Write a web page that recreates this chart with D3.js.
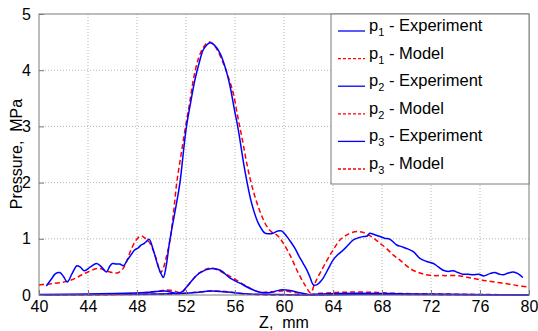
<!DOCTYPE html>
<html><head><meta charset="utf-8">
<script src="https://cdn.jsdelivr.net/npm/d3@7"></script>
<style>
body{margin:0;background:#fff;}
svg{display:block;font-family:"Liberation Sans",Arial,sans-serif;}
</style></head>
<body><svg id="c" width="538" height="331"></svg>
<script>
const xTicks=[40,44,48,52,56,60,64,68,72,76,80];
const yTicks=[0,1,2,3,4,5];

const p1ExpZ=[40.6,41.0,41.35,41.7,42.0,42.3,42.7,43.1,43.4,43.7,44.2,44.7,45.1,45.5,45.8,46.0,46.3,46.6,46.9,47.2,47.5,47.8,48.1,48.35,48.6,48.8,49.0,49.33,49.74,50.0,50.15,50.37,50.64,50.83,51.2,51.5,52.0,52.4,52.73,53.1,53.4,53.7,53.96,54.3,54.78,55.2,55.6,55.95,56.27,56.8,57.36,57.9,58.45,58.8,59.1,59.5,59.8,60.2,60.5,60.9,61.2,61.57,61.85,62.1,62.4,62.67,62.9,63.2,63.6,64.0,64.4,64.84,65.2,65.66,66.1,66.5,66.8,67.0,67.3,67.84,68.2,68.65,69.2,69.6,70.1,70.56,71.1,71.6,72.2,72.6,73.0,73.4,73.8,74.2,74.6,75.0,75.45,75.9,76.3,76.8,77.2,77.6,77.9,78.3,78.7,79.1,79.5];
const p1ExpP=[0.16,0.28,0.38,0.40,0.33,0.23,0.38,0.52,0.49,0.43,0.50,0.56,0.50,0.41,0.52,0.56,0.55,0.55,0.52,0.62,0.71,0.80,0.84,0.89,0.92,0.96,0.99,0.80,0.50,0.36,0.31,0.50,0.92,1.16,1.60,1.99,2.94,3.45,3.83,4.15,4.36,4.45,4.49,4.45,4.30,4.05,3.71,3.30,2.94,2.22,1.63,1.28,1.10,1.09,1.10,1.14,1.14,1.05,0.96,0.83,0.70,0.56,0.45,0.33,0.18,0.18,0.22,0.30,0.46,0.62,0.72,0.80,0.88,0.98,1.02,1.04,1.05,1.10,1.08,1.04,1.01,0.99,0.89,0.86,0.82,0.77,0.65,0.60,0.56,0.50,0.44,0.42,0.43,0.40,0.37,0.37,0.36,0.37,0.34,0.38,0.40,0.37,0.36,0.39,0.41,0.38,0.31];

const p1ModZ=[40,40.5,41,41.7,42.4,43.0,43.5,44.0,44.7,45.0,45.36,45.8,46.2,46.5,46.86,47.2,47.5,47.8,48.1,48.35,48.6,49.06,49.35,49.6,49.8,49.93,50.1,50.4,50.7,51.0,51.24,51.6,51.92,52.3,52.6,53.0,53.4,53.7,54.0,54.5,55.05,55.5,55.86,56.2,56.55,57.2,57.9,58.6,59.0,59.4,59.7,60.0,60.49,61.17,61.7,62.18,62.5,62.94,63.76,64.57,65.0,65.4,66.07,66.5,66.9,67.4,67.84,68.4,68.93,69.47,70.3,71.1,71.9,73.0,74.4,75.3,76.3,77.2,78.2,79.0,80];
const p1ModP=[0.18,0.19,0.20,0.22,0.25,0.30,0.36,0.41,0.47,0.47,0.44,0.41,0.39,0.40,0.47,0.62,0.80,0.93,1.02,1.05,1.02,0.92,0.78,0.62,0.47,0.40,0.45,0.68,0.98,1.50,1.99,2.50,2.94,3.42,3.83,4.20,4.40,4.48,4.50,4.38,4.12,3.85,3.59,3.20,2.82,2.10,1.57,1.22,1.12,1.07,1.00,0.90,0.71,0.39,0.18,0.04,0.20,0.39,0.71,0.98,1.05,1.10,1.13,1.11,1.07,1.00,0.92,0.82,0.71,0.62,0.47,0.39,0.35,0.345,0.34,0.30,0.26,0.23,0.20,0.17,0.14];

const p2ExpZ=[40,44,47,49,50.3,50.8,51.3,51.7,52.3,53.1,54.1,54.8,55.6,56.4,57.5,58.3,59,59.7,60.5,61.3,62,63,66,70,75,80];
const p2ExpP=[0.01,0.02,0.03,0.05,0.07,0.05,0.03,0.06,0.21,0.39,0.47,0.44,0.30,0.21,0.09,0.04,0.05,0.09,0.08,0.04,0.01,0.02,0.03,0.02,0.01,0.0];
const p2ModZ=[40,45,48,49.5,50.5,51.2,51.6,52.2,53,54,55,56,57,58,59,60,61,62,63,65,67,69,72,76,80];
const p2ModP=[0.0,0.01,0.03,0.06,0.09,0.06,0.04,0.18,0.38,0.48,0.40,0.28,0.15,0.05,0.06,0.07,0.04,0.01,0.03,0.05,0.05,0.03,0.02,0.01,0.0];

const p3ExpZ=[40,46,50,52,53,54,55,56,57,59,62,66,70,80];
const p3ExpP=[0.0,0.01,0.02,0.03,0.05,0.07,0.06,0.04,0.02,0.01,0.0,0.01,0.01,0.0];
const p3ModZ=[40,48,51,53,54,55,56,57.5,62,66,70,80];
const p3ModP=[0.0,0.01,0.02,0.05,0.07,0.065,0.04,0.01,0.0,0.02,0.01,0.0];

const legendLabels=[["1"," - Experiment"],["1"," - Model"],["2"," - Experiment"],["2"," - Model"],["3"," - Experiment"],["3"," - Model"]];

const BLUE="#0000ff", RED="#ff0000";
const series=[
 {z:p1ExpZ,p:p1ExpP,c:BLUE,d:null},
 {z:p1ModZ,p:p1ModP,c:RED,d:"5,3"},
 {z:p2ExpZ,p:p2ExpP,c:BLUE,d:null},
 {z:p2ModZ,p:p2ModP,c:RED,d:"5,3"},
 {z:p3ExpZ,p:p3ExpP,c:BLUE,d:null},
 {z:p3ModZ,p:p3ModP,c:RED,d:"5,3"}
];

const L=39,R=529,T=14,B=295;
const svg=d3.select("#c");
const x=d3.scaleLinear().domain([40,80]).range([L,R]);
const y=d3.scaleLinear().domain([0,5]).range([B,T]);

const g=svg.append("g");
// grid
g.selectAll(".gx").data(xTicks.slice(1,-1)).enter().append("line")
 .attr("x1",d=>x(d)).attr("x2",d=>x(d)).attr("y1",T).attr("y2",B)
 .attr("stroke","#b4b4b4").attr("stroke-dasharray","1,2").attr("stroke-width",1);
g.selectAll(".gy").data(yTicks.slice(1,-1)).enter().append("line")
 .attr("y1",d=>y(d)).attr("y2",d=>y(d)).attr("x1",L).attr("x2",R)
 .attr("stroke","#b4b4b4").attr("stroke-dasharray","1,2").attr("stroke-width",1);

// lines
const line=d3.line().curve(d3.curveCatmullRom.alpha(0.5));
series.slice().reverse().forEach(s=>{
  const pts=s.z.map((v,i)=>[x(v),y(s.p[i])]);
  g.append("path").attr("d",line(pts)).attr("fill","none")
   .attr("stroke",s.c).attr("stroke-width",1.5)
   .attr("stroke-dasharray",s.d);
});

// axes box
g.append("rect").attr("x",L).attr("y",T).attr("width",R-L).attr("height",B-T)
 .attr("fill","none").attr("stroke","#7a7a7a").attr("stroke-width",1);

const xa=d3.axisBottom(x).tickValues(xTicks).tickSize(-5).tickPadding(6).tickFormat(d3.format("d"));
const ya=d3.axisLeft(y).tickValues(yTicks).tickSize(-5).tickPadding(8).tickFormat(d3.format("d"));
const gx=svg.append("g").attr("transform",`translate(0,${B})`).call(xa);
const gy=svg.append("g").attr("transform",`translate(${L},0)`).call(ya);
[gx,gy].forEach(a=>{
  a.select(".domain").remove();
  a.selectAll(".tick line").attr("stroke","#7a7a7a");
  a.selectAll("text").attr("font-size",16).attr("fill","#000").attr("font-family","'Liberation Sans',Arial,sans-serif");
});
gx.selectAll("text").attr("dy","0.71em");

// axis labels
svg.append("text").attr("x",284).attr("y",328).attr("text-anchor","middle")
 .attr("font-size",16).attr("xml:space","preserve").text("Z,  mm");
svg.append("text").attr("transform","translate(22,154) rotate(-90)").attr("text-anchor","middle")
 .attr("font-size",16).attr("xml:space","preserve").text("Pressure,  MPa");

// legend
const lg=svg.append("g");
lg.append("rect").attr("x",331).attr("y",T).attr("width",R-331).attr("height",184-T)
 .attr("fill","#fff").attr("stroke","#7a7a7a").attr("stroke-width",1);
legendLabels.forEach((lab,i)=>{
  const yy=31+i*27.6;
  const s=series[i];
  lg.append("line").attr("x1",338).attr("x2",365).attr("y1",yy).attr("y2",yy)
    .attr("stroke",s.c).attr("stroke-width",1.3).attr("stroke-dasharray",s.d?"3,2":null);
  const t=lg.append("text").attr("x",369).attr("y",yy).attr("font-size",16.5);
  t.append("tspan").text("p");
  t.append("tspan").attr("font-size",11).attr("dy",5).text(lab[0]);
  t.append("tspan").attr("dy",-5).text(lab[1]);
});
</script></body></html>
